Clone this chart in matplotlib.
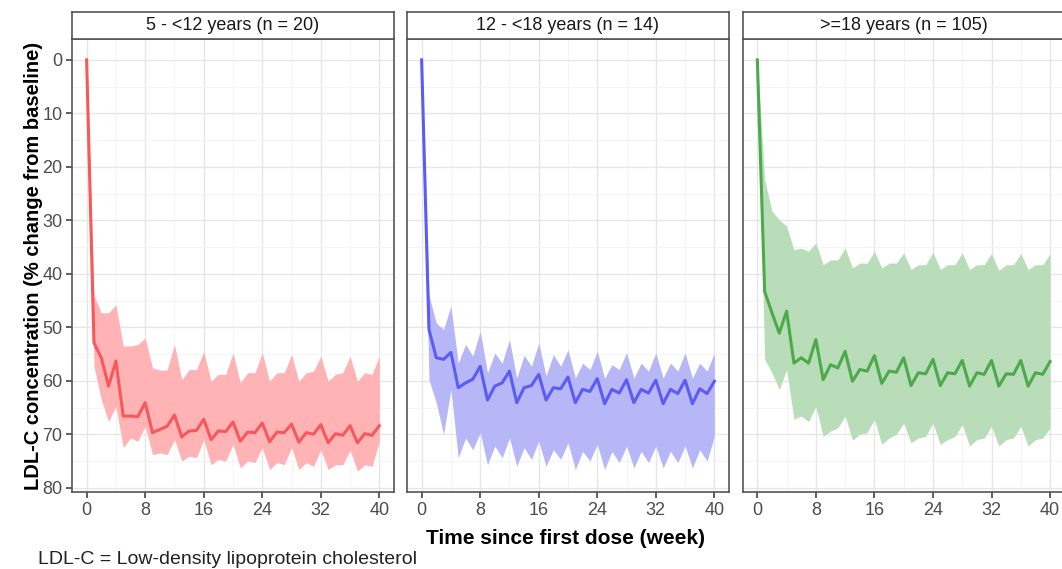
import numpy as np
import matplotlib.pyplot as plt
from matplotlib.ticker import MultipleLocator

plt.rcParams['font.family'] = ['Liberation Sans', 'DejaVu Sans']

weeks = list(range(0, 41))

titles = ["5 - <12 years (n = 20)", "12 - <18 years (n = 14)", ">=18 years (n = 105)"]

# median % change from baseline (shown as positive reduction)
mid_5_12 = [0, 52.9, 55.7, 61.0, 56.3, 66.6, 66.6, 66.7, 64.1, 69.7, 69.1, 68.5, 66.4, 70.5,
            69.4, 69.3, 67.2, 71.0, 69.4, 69.5, 67.7, 71.3, 69.6, 69.7, 67.9, 71.4, 69.6,
            69.7, 68.1, 71.5, 69.7, 70.0, 68.2, 71.6, 69.9, 70.2, 68.4, 71.6, 69.9, 70.2, 68.4]
lo_5_12 = [0, 44.0, 47.3, 47.3, 45.8, 53.5, 53.5, 53.2, 52.0, 57.6, 58.0, 58.0, 53.2, 59.8,
           57.9, 57.9, 54.5, 60.1, 58.8, 58.8, 54.8, 60.4, 58.5, 58.5, 54.8, 60.1, 58.5,
           58.5, 55.1, 60.1, 58.5, 58.2, 55.4, 60.1, 58.8, 58.5, 55.4, 60.1, 58.5, 58.8, 55.4]
hi_5_12 = [0, 57.3, 63.5, 67.6, 64.8, 72.5, 70.7, 71.3, 68.5, 73.8, 73.5, 73.8, 71.0, 75.0,
           74.1, 74.4, 71.0, 75.7, 74.7, 75.0, 71.9, 76.3, 75.0, 75.3, 72.5, 76.6, 75.3,
           75.7, 72.5, 76.6, 75.3, 76.0, 72.9, 76.6, 75.7, 75.7, 73.0, 76.9, 75.7, 76.0, 71.3]

mid_12_18 = [0, 50.4, 55.7, 56.0, 54.7, 61.3, 60.4, 59.7, 57.3, 63.6, 61.0, 60.4, 58.2, 64.1,
             61.3, 60.9, 58.8, 63.6, 61.3, 61.5, 59.3, 64.1, 61.6, 62.0, 59.6, 64.3, 61.6,
             62.3, 59.8, 64.1, 61.6, 62.3, 59.9, 64.3, 61.6, 62.4, 59.9, 64.3, 61.5, 62.4, 60.1]
lo_12_18 = [0, 44.0, 49.2, 50.4, 46.0, 56.7, 53.2, 55.4, 50.7, 58.5, 54.8, 56.7, 52.3, 59.5,
            55.2, 57.3, 52.9, 59.1, 55.1, 57.3, 54.2, 59.5, 56.7, 57.9, 54.5, 59.5, 57.0,
            57.9, 54.7, 59.5, 56.7, 58.2, 54.8, 59.5, 56.7, 58.2, 54.8, 59.5, 56.7, 58.2, 54.8]
hi_12_18 = [0, 59.8, 64.1, 70.0, 61.6, 74.4, 70.7, 72.9, 69.7, 75.7, 72.2, 74.4, 70.7, 76.0,
            72.5, 74.7, 71.3, 76.0, 72.9, 74.7, 71.6, 76.6, 73.2, 75.0, 71.9, 76.6, 73.2,
            75.3, 72.2, 76.3, 73.2, 75.3, 72.2, 76.3, 73.2, 75.3, 72.2, 76.3, 72.9, 75.0, 70.4]

mid_18 = [0, 43.3, 47.3, 51.1, 47.0, 56.7, 55.7, 56.7, 52.3, 59.8, 57.0, 57.6, 54.5, 60.1,
          57.9, 58.2, 55.3, 60.5, 58.2, 58.4, 55.7, 60.9, 58.5, 58.7, 56.0, 60.9, 58.5,
          58.7, 56.2, 61.0, 58.5, 58.8, 56.2, 61.0, 58.7, 58.8, 56.2, 61.0, 58.5, 58.8, 56.4]
lo_18 = [0, 22.4, 28.3, 29.9, 31.1, 35.5, 35.2, 35.8, 34.2, 38.3, 37.4, 37.4, 35.2, 38.9,
         38.0, 38.0, 35.8, 38.9, 38.0, 38.0, 36.1, 39.2, 38.3, 38.3, 36.0, 39.2, 38.3,
         38.3, 36.1, 39.2, 38.3, 38.3, 36.2, 39.4, 38.3, 38.3, 36.2, 39.2, 38.3, 38.3, 36.2]
hi_18 = [0, 56.0, 58.5, 61.6, 57.9, 67.2, 66.6, 67.6, 64.8, 70.4, 69.4, 68.8, 66.6, 71.1,
         70.0, 69.7, 67.2, 71.9, 70.7, 70.0, 67.9, 71.6, 70.7, 70.4, 67.9, 71.9, 71.0,
         70.4, 68.2, 72.2, 71.0, 70.7, 68.5, 72.2, 71.0, 70.7, 68.5, 72.2, 71.0, 70.7, 68.8]

mids = [mid_5_12, mid_12_18, mid_18]
los = [lo_5_12, lo_12_18, lo_18]
his = [hi_5_12, hi_12_18, hi_18]
line_colors = ["#F8585A", "#5B5BF5", "#4CAA4C"]
fill_colors = ["#FFB3B5", "#B7B7F8", "#B8DDB8"]

W, H = 1062, 569
fig = plt.figure(figsize=(W / 100, H / 100), dpi=100)

lefts = [72, 407, 742.7]
pw = 322
top, bottom = 38.5, 492
strip_top = 12

for i in range(3):
    ax = fig.add_axes([lefts[i] / W, 1 - bottom / H, pw / W, (bottom - top) / H])
    ax.fill_between(weeks, los[i], his[i], color=fill_colors[i], lw=0, zorder=2)
    ax.plot(weeks, mids[i], color=line_colors[i], lw=2.2, zorder=3)
    ax.set_xlim(-2, 42)
    ax.set_ylim(80.8, -4)
    ax.xaxis.set_major_locator(MultipleLocator(8))
    ax.xaxis.set_minor_locator(MultipleLocator(4))
    ax.yaxis.set_major_locator(MultipleLocator(10))
    ax.yaxis.set_minor_locator(MultipleLocator(5))
    ax.grid(which="major", color="#E6E6E6", lw=1.0, zorder=0)
    ax.grid(which="minor", color="#F2F2F2", lw=0.6, zorder=0)
    ax.set_axisbelow(True)
    for s in ax.spines.values():
        s.set_color("#555555")
        s.set_linewidth(1.2)
    ax.tick_params(which="major", length=4, width=1.1, color="#333333",
                   labelsize=13, labelcolor="#4D4D4D", pad=3)
    ax.tick_params(which="minor", length=0)
    if i > 0:
        ax.tick_params(axis="y", left=False, labelleft=False)

    # facet strip
    sax = fig.add_axes([lefts[i] / W, 1 - top / H, pw / W, (top - strip_top) / H])
    sax.set_xticks([])
    sax.set_yticks([])
    sax.set_facecolor("white")
    for s in sax.spines.values():
        s.set_color("#555555")
        s.set_linewidth(1.2)
    sax.text(0.5, 0.48, titles[i], ha="center", va="center", fontsize=13,
             color="#1A1A1A", transform=sax.transAxes)

fig.text(565 / W, 1 - 538 / H, "Time since first dose (week)", ha="center", va="center",
         fontsize=15, fontweight="bold", color="black")
fig.text(34 / W, 1 - 266 / H, "LDL-C concentration (% change from baseline)", ha="center",
         va="center", rotation=90, fontsize=14.5, fontweight="bold", color="black")
fig.text(38 / W, 1 - 559 / H, "LDL-C = Low-density lipoprotein cholesterol", ha="left",
         va="center", fontsize=14, color="#222222")

fig.savefig("out.png", dpi=100)
